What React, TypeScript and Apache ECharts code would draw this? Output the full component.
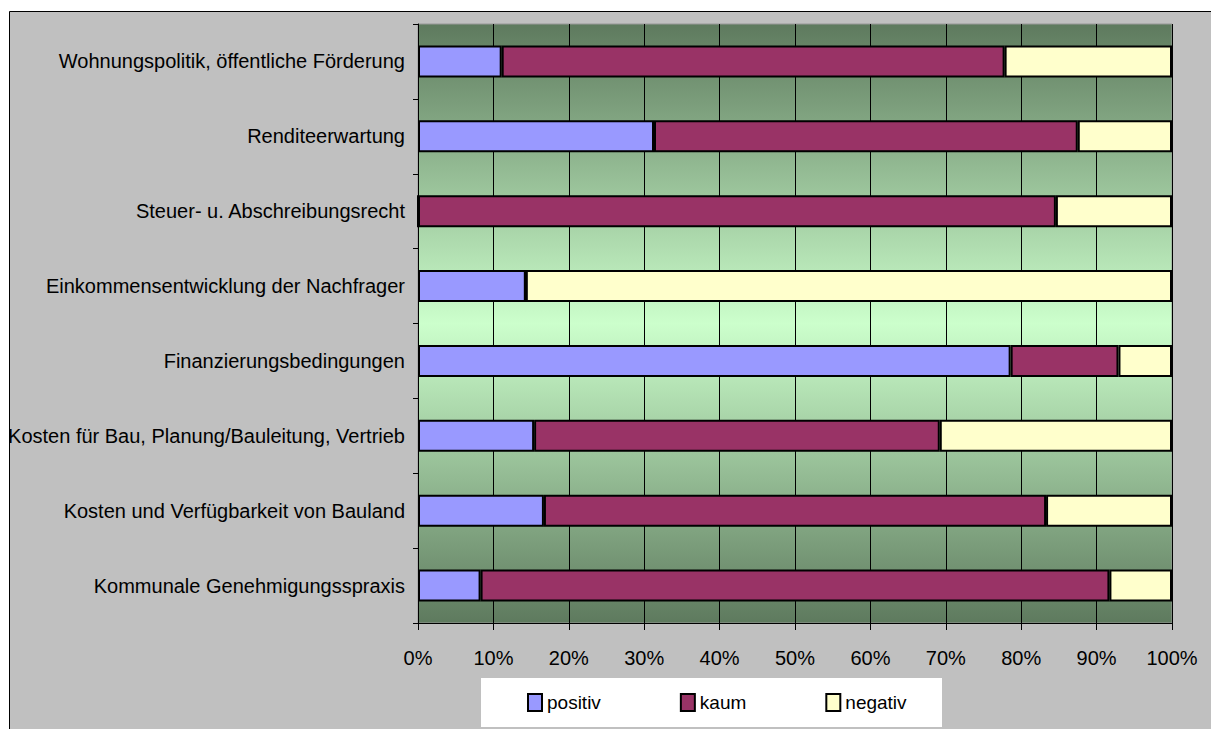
import React, { useEffect, useRef } from "react";
import * as echarts from "echarts";

const categories = [
  "Wohnungspolitik, öffentliche Förderung",
  "Renditeerwartung",
  "Steuer- u. Abschreibungsrecht",
  "Einkommensentwicklung der Nachfrager",
  "Finanzierungsbedingungen",
  "Kosten für Bau, Planung/Bauleitung, Vertrieb",
  "Kosten und Verfügbarkeit von Bauland",
  "Kommunale Genehmigungsspraxis",
];
const positiv = [11.1, 31.3, 0, 14.3, 78.6, 15.4, 16.7, 8.3];
const kaum = [66.7, 56.2, 84.6, 0, 14.3, 53.8, 66.6, 83.4];
const negativ = [22.2, 12.5, 15.4, 85.7, 7.1, 30.8, 16.7, 8.3];

const FONT = "'Liberation Sans', Arial, sans-serif";

export default function App() {
  const ref = useRef<HTMLDivElement>(null);
  useEffect(() => {
    if (!ref.current) return;
    const chart = echarts.init(ref.current, undefined, { renderer: "svg" });
    const mkSeries = (name: string, data: number[], color: string) => ({
      name,
      type: "bar",
      stack: "total",
      data,
      barWidth: 32,
      itemStyle: { color, borderColor: "#000", borderWidth: 2 },
      emphasis: { disabled: true },
    });
    chart.setOption({
      animation: false,
      backgroundColor: "#ffffff",
      textStyle: { fontFamily: FONT },
      graphic: [
        {
          type: "rect",
          z: -10,
          shape: { x: 9.5, y: 11.5, width: 1220, height: 740 },
          style: { fill: "#c0c0c0", stroke: "#000", lineWidth: 1 },
          silent: true,
        },
        {
          type: "rect",
          z: -5,
          shape: { x: 481, y: 678, width: 461, height: 49 },
          style: { fill: "#ffffff" },
          silent: true,
        },
      ],
      grid: {
        left: 418,
        top: 24,
        right: 39,
        bottom: 106,
        containLabel: false,
        outerBoundsMode: "none",
        show: true,
        borderWidth: 1,
        borderColor: "#999",
        backgroundColor: {
          type: "linear",
          x: 0,
          y: 0,
          x2: 0,
          y2: 1,
          colorStops: [
            { offset: 0, color: "#5e7a5e" },
            { offset: 0.5, color: "#ccffcc" },
            { offset: 1, color: "#5e7a5e" },
          ],
        },
      },
      legend: {
        left: 527,
        top: 693,
        padding: 0,
        itemWidth: 14,
        itemHeight: 17,
        itemGap: 79,
        icon: "rect",
        textStyle: { fontSize: 19, color: "#000", fontFamily: FONT },
        data: ["positiv", "kaum", "negativ"],
        selectedMode: false,
      },
      xAxis: {
        type: "value",
        min: 0,
        max: 100,
        interval: 10,
        axisLine: { show: true, lineStyle: { color: "#000", width: 1 } },
        axisTick: { show: true, length: 7, lineStyle: { color: "#000" } },
        axisLabel: {
          formatter: "{value}%",
          fontSize: 20,
          color: "#000",
          margin: 25,
          fontFamily: FONT,
        },
        splitLine: { show: true, lineStyle: { color: "#000", width: 1 } },
      },
      yAxis: {
        type: "category",
        inverse: true,
        data: categories,
        axisLine: { show: true, lineStyle: { color: "#000", width: 1 } },
        axisTick: { show: true, length: 5, lineStyle: { color: "#000" } },
        axisLabel: { fontSize: 20, color: "#000", margin: 13, fontFamily: FONT },
        splitLine: { show: false },
      },
      series: [
        mkSeries("positiv", positiv, "#9999ff"),
        mkSeries("kaum", kaum, "#993366"),
        mkSeries("negativ", negativ, "#ffffcc"),
      ],
    });
    return () => chart.dispose();
  }, []);
  return (
    <div
      ref={ref}
      style={{ position: "fixed", left: 0, top: 0, width: 1211, height: 729 }}
    />
  );
}
